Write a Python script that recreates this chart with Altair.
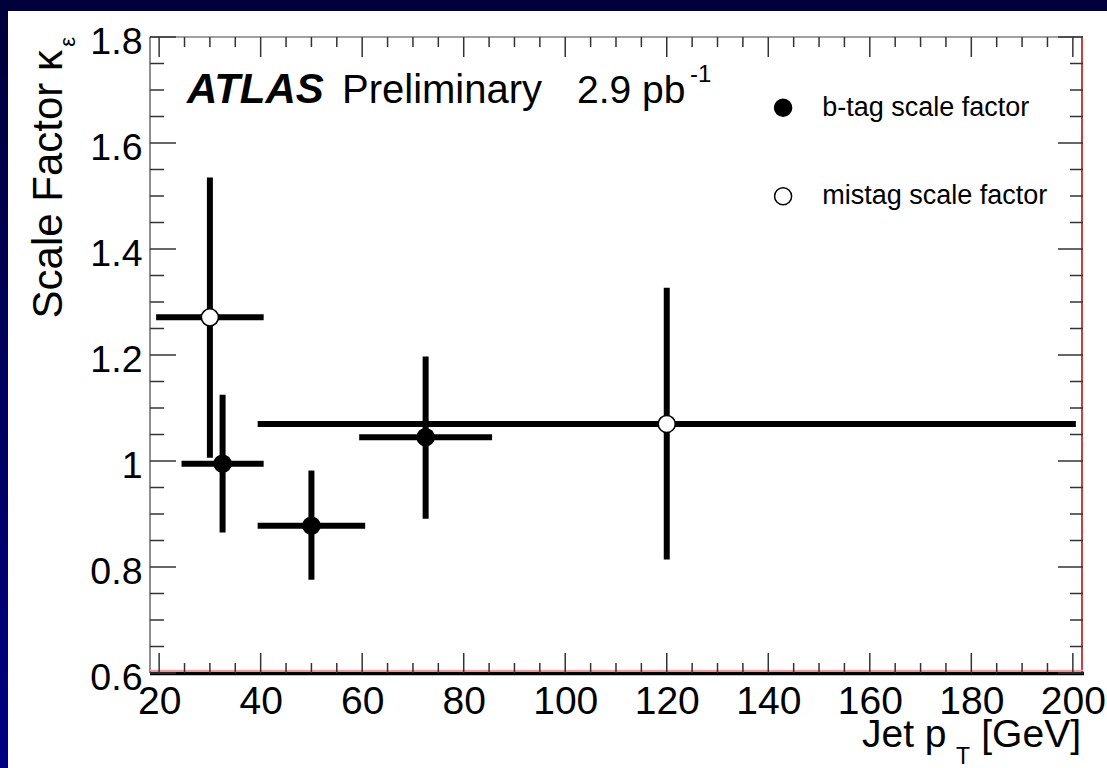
import altair as alt
import pandas as pd

# ---------------- data ----------------
series_names = ["b-tag scale factor", "mistag scale factor"]

btag_x = [32.5, 50.0, 72.5]
btag_xlo = [25.0, 40.0, 60.0]
btag_xhi = [40.0, 60.0, 85.0]
btag_y = [0.995, 0.878, 1.045]
btag_ylo = [0.865, 0.776, 0.891]
btag_yhi = [1.125, 0.982, 1.197]

mistag_x = [30.0, 120.0]
mistag_xlo = [20.0, 40.0]
mistag_xhi = [40.0, 200.0]
mistag_y = [1.271, 1.070]
mistag_ylo = [1.006, 0.814]
mistag_yhi = [1.535, 1.327]

x_major = [20, 40, 60, 80, 100, 120, 140, 160, 180, 200]
x_minor = [25, 30, 35, 45, 50, 55, 65, 70, 75, 85, 90, 95, 105, 110, 115,
           125, 130, 135, 145, 150, 155, 165, 170, 175, 185, 190, 195]
y_major = [0.6, 0.8, 1.0, 1.2, 1.4, 1.6, 1.8]
y_minor = [0.65, 0.7, 0.75, 0.85, 0.9, 0.95, 1.05, 1.1, 1.15, 1.25, 1.3, 1.35,
           1.45, 1.5, 1.55, 1.65, 1.7, 1.75]

# ---------------- tables ----------------
pts = pd.DataFrame({
    "series": [series_names[0]] * len(btag_x) + [series_names[1]] * len(mistag_x),
    "x": btag_x + mistag_x,
    "xlo": btag_xlo + mistag_xlo,
    "xhi": btag_xhi + mistag_xhi,
    "y": btag_y + mistag_y,
    "ylo": btag_ylo + mistag_ylo,
    "yhi": btag_yhi + mistag_yhi,
})
xmaj = pd.DataFrame({"v": x_major})
xmin = pd.DataFrame({"v": x_minor})
ymaj = pd.DataFrame({"v": y_major})
ymin = pd.DataFrame({"v": y_minor})
one = pd.DataFrame({"d": [0]})

W, H = 933, 636
FONT = "Liberation Sans"

xs = alt.Scale(domain=[18.2, 202], nice=False, zero=False)
ys = alt.Scale(domain=[0.6, 1.8], nice=False, zero=False)
xaxis = alt.Axis(values=x_major, format="d", title=None, ticks=False, tickSize=0,
                 domain=False, grid=False, labelFont=FONT, labelFontSize=39,
                 labelColor="black", labelFlush=False, labelBaseline="alphabetic",
                 labelPadding=40, labelOverlap=False, zindex=2)
yaxis = alt.Axis(values=y_major, format="~g", title=None, ticks=False, tickSize=0,
                 domain=False, grid=False, labelFont=FONT, labelFontSize=37.5,
                 labelColor="black", labelFlush=False, labelBaseline="middle",
                 labelPadding=8, labelOffset=5, labelOverlap=False, zindex=2)


def X(f):
    return alt.X(f, type="quantitative", scale=xs, axis=xaxis)


def Y(f):
    return alt.Y(f, type="quantitative", scale=ys, axis=yaxis)


# ---------------- background ----------------
grad = alt.LinearGradient(
    gradient="linear", x1=0, x2=0, y1=0, y2=1,
    stops=[alt.GradientStop(color="#00003a", offset=0),
           alt.GradientStop(color="#000084", offset=1)])
bg = alt.Chart(one).mark_rect(color=grad).encode(
    x=alt.value(-150), x2=alt.value(W + 24), y=alt.value(-37), y2=alt.value(H + 95))
white = alt.Chart(one).mark_rect(color="white").encode(
    x=alt.value(-142), x2=alt.value(W + 24), y=alt.value(-26), y2=alt.value(H + 95))

# ---------------- frame ----------------
frame_left = alt.Chart(one).mark_rule(color="#444", strokeWidth=1.2).encode(
    x=alt.value(0), y=alt.value(0), y2=alt.value(H))
frame_top = alt.Chart(one).mark_rule(color="#444", strokeWidth=1.2).encode(
    x=alt.value(0), x2=alt.value(W), y=alt.value(0))
frame_right = alt.Chart(one).mark_rule(color="#d23c3c", strokeWidth=2).encode(
    x=alt.value(W - 1), y=alt.value(0), y2=alt.value(H))
frame_bottom_red = alt.Chart(one).mark_rule(color="#f0a0a0", strokeWidth=1.5).encode(
    x=alt.value(0), x2=alt.value(W), y=alt.value(H - 2.5))
frame_bottom = alt.Chart(one).mark_rule(color="black", strokeWidth=3.5).encode(
    x=alt.value(0), x2=alt.value(W + 1), y=alt.value(H + 0.5))

# ---------------- inward ticks ----------------
TC = "#333"
TW = 1.5
t_bmaj = alt.Chart(xmaj).mark_rule(color=TC, strokeWidth=TW).encode(
    x=X("v"), y=alt.value(H), y2=alt.value(H - 20))
t_bmin = alt.Chart(xmin).mark_rule(color=TC, strokeWidth=TW).encode(
    x=X("v"), y=alt.value(H), y2=alt.value(H - 10))
t_tmaj = alt.Chart(xmaj).mark_rule(color=TC, strokeWidth=TW).encode(
    x=X("v"), y=alt.value(0), y2=alt.value(20))
t_tmin = alt.Chart(xmin).mark_rule(color=TC, strokeWidth=TW).encode(
    x=X("v"), y=alt.value(0), y2=alt.value(10))
t_lmaj = alt.Chart(ymaj).mark_rule(color=TC, strokeWidth=TW).encode(
    y=Y("v"), x=alt.value(0), x2=alt.value(26))
t_lmin = alt.Chart(ymin).mark_rule(color=TC, strokeWidth=TW).encode(
    y=Y("v"), x=alt.value(0), x2=alt.value(14))
t_rmaj = alt.Chart(ymaj).mark_rule(color=TC, strokeWidth=TW).encode(
    y=Y("v"), x=alt.value(W), x2=alt.value(W - 25))
t_rmin = alt.Chart(ymin).mark_rule(color=TC, strokeWidth=TW).encode(
    y=Y("v"), x=alt.value(W), x2=alt.value(W - 13))

# ---------------- error bars & points ----------------
hbar = alt.Chart(pts).mark_rule(color="black", strokeWidth=6, strokeCap="square").encode(
    x=X("xlo"), x2="xhi", y=Y("y"))
vbar = alt.Chart(pts).mark_rule(color="black", strokeWidth=6).encode(
    x=X("x"), y=Y("ylo"), y2="yhi")
points = alt.Chart(pts).mark_point(shape="circle", filled=True, size=290,
                                   stroke="black", strokeWidth=1.5, opacity=1).encode(
    x=X("x"), y=Y("y"),
    fill=alt.Fill("series:N",
                  scale=alt.Scale(domain=series_names, range=["black", "white"]),
                  legend=alt.Legend(title=None, orient="none", legendX=619.6, legendY=57.2,
                                    direction="vertical", symbolType="circle",
                                    symbolSize=290, symbolStrokeColor="black",
                                    symbolStrokeWidth=1.5, symbolOpacity=1,
                                    labelFont=FONT, labelFontSize=27, labelColor="black",
                                    labelLimit=0, labelOffset=25.6, rowPadding=60.5,
                                    padding=0, zindex=2)),
)

# ---------------- text ----------------
def txt(t, x, y, size, **kw):
    return alt.Chart(one).mark_text(text=t, font=FONT, fontSize=size, color="black",
                                    baseline="alphabetic", **kw).encode(
        x=alt.value(x), y=alt.value(y))


t_atlas = txt("ATLAS", 37, 66, 42, align="left", fontStyle="italic", fontWeight="bold")
t_prelim = txt("Preliminary", 192, 66, 40, align="left")
t_lumi = txt("2.9 pb", 427, 66, 39, align="left")
t_lumi_sup = txt("-1", 540, 45, 24, align="left")
t_ytitle = txt("Scale Factor \u03ba", -88, 13, 42, align="right", angle=270)
t_ysub = txt("\u03b5", -75, 0, 22, align="right", angle=270)
t_xtitle = txt("Jet p", 712, 710, 39, align="left")
t_xsub = txt("T", 806, 727, 23, align="left")
t_xunit = txt("[GeV]", 931, 710, 39, align="right")

chart = alt.layer(
    bg, white,
    frame_left, frame_top, frame_right, frame_bottom_red, frame_bottom,
    t_bmaj, t_bmin, t_tmaj, t_tmin, t_lmaj, t_lmin, t_rmaj, t_rmin,
    hbar, vbar, points,
    t_atlas, t_prelim, t_lumi, t_lumi_sup, t_ytitle, t_ysub, t_xtitle, t_xsub, t_xunit,
).properties(
    width=W, height=H,
    padding={"left": 150, "top": 37, "right": 24, "bottom": 95},
    autosize=alt.AutoSizeParams(type="none"),
    background="#00003a",
).configure_view(stroke=None)

chart.save("out.html", embed_options={"renderer": "svg", "actions": False})
